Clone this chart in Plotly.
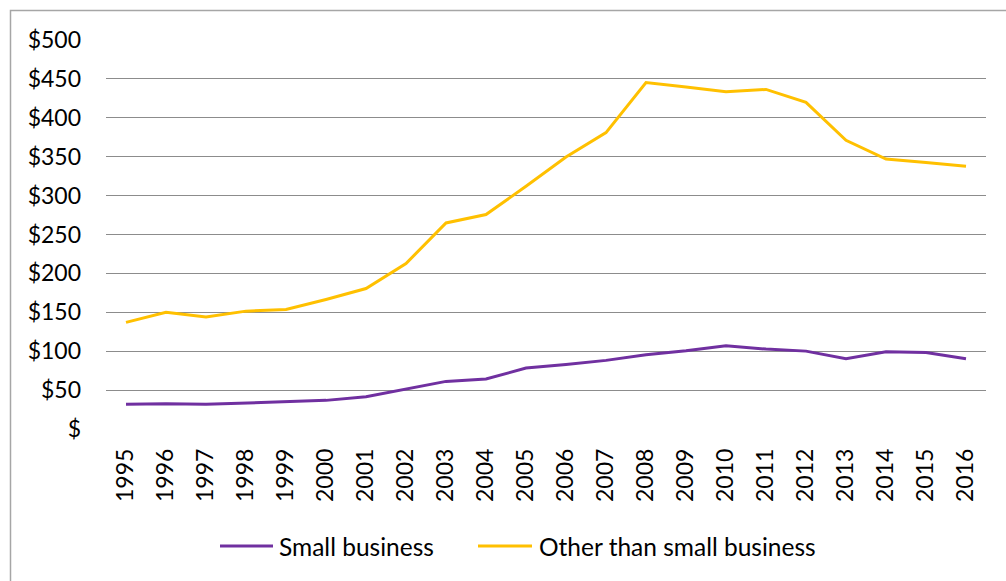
import plotly.graph_objects as go

# Annual values (dollars) by year
years = [str(y) for y in range(1995, 2017)]
small_business = [31.7, 32.5, 31.7, 33.4, 34.2, 36.8, 41.5, 51.8, 61.2, 64.2, 78.3,
                  83.0, 88.2, 95.4, 100.5, 107.0, 102.7, 100.1, 90.2, 99.2, 98.4, 90.2]
other_business = [137, 150, 144, 151.5, 153.6, 166.5, 180.6, 212.7, 264.8, 275.6, 312,
                  349.5, 381, 445.4, 439.5, 433.5, 436.5, 419.8, 371, 347, 342.4, 337.6]
y_ticks = [0, 50, 100, 150, 200, 250, 300, 350, 400, 450, 500]
y_tick_text = ["$"] + [f"${v}" for v in y_ticks[1:]]
series_names = ["Small business", "Other than small business"]
series_colors = ["#7030A0", "#FFC000"]

FONT = "Lato, 'Open Sans', sans-serif"

# plot-area geometry in pixels (used to place the frame and the legend)
L, R, T, B = 106, 20, 40, 152
W, H = 1006, 581
PW, PH = W - L - R, H - T - B


def px_x(px):
    return (px - L) / PW


def px_y(py):
    return (H - B - py) / PH


fig = go.Figure()
for name, vals, col in zip(series_names, [small_business, other_business], series_colors):
    fig.add_trace(go.Scatter(x=years, y=vals, mode="lines", name=name,
                             line=dict(color=col, width=3), showlegend=False))

# chart frame
fig.add_shape(type="rect", xref="paper", yref="paper",
              x0=px_x(10.5), x1=px_x(W + 50), y0=px_y(H + 50), y1=px_y(10.5),
              line=dict(color="#A6A6A6", width=1.5), fillcolor="rgba(0,0,0,0)", layer="below")

# legend below the axis: swatch line + label for each series
legend_items = [(220, 273, 277), (478, 532, 537)]
for (lx0, lx1, tx), name, col in zip(legend_items, series_names, series_colors):
    fig.add_shape(type="line", xref="paper", yref="paper",
                  x0=px_x(lx0), x1=px_x(lx1), y0=px_y(546), y1=px_y(546),
                  line=dict(color=col, width=3))
    fig.add_annotation(xref="paper", yref="paper", x=px_x(tx), y=px_y(546),
                       xanchor="left", yanchor="middle", text=name, showarrow=False,
                       font=dict(family=FONT, size=24.5, color="black"))

fig.update_layout(
    width=W, height=H,
    margin=dict(l=L, r=R, t=T, b=B),
    paper_bgcolor="white", plot_bgcolor="white",
    font=dict(family=FONT, size=23, color="black"),
    showlegend=False,
)
fig.update_xaxes(type="category", range=[-0.5, 21.5], tickangle=-90,
                 showgrid=False, showline=False, zeroline=False,
                 ticks="", ticklabelstandoff=14,
                 tickfont=dict(family=FONT, size=23, color="black"))
fig.update_yaxes(range=[0, 500], tickvals=y_ticks, ticktext=y_tick_text,
                 showgrid=True, gridcolor="#8C8C8C", gridwidth=1.2,
                 zeroline=False, showline=False, ticks="", ticklabelstandoff=24,
                 tickfont=dict(family=FONT, size=23, color="black"))

fig.write_html("out.html")
